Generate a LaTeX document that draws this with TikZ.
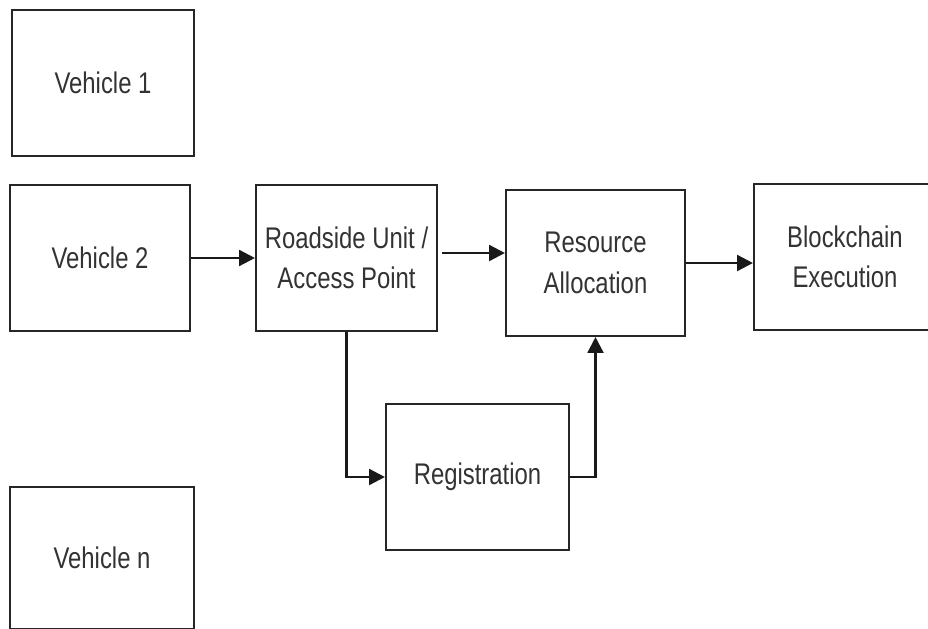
\documentclass[tikz,border=0pt]{standalone}
\usepackage{fontspec}
\setmainfont{Liberation Sans}[FakeStretch=0.8]
\usepackage{tikz}
\usetikzlibrary{arrows.meta}

\tikzset{
  blk/.style={draw=black!85, line width=1.2pt, minimum width=181*0.02cm, minimum height=146*0.02cm,
    align=center, font=\fontsize{17}{23}\selectfont, text=black!80, inner sep=0pt},
  arr/.style={line width=1.4pt, draw=black!90, -{Triangle[length=9pt,width=9pt]}}
}

\begin{document}
\begin{tikzpicture}[x=0.02cm,y=-0.02cm]
\clip (0,0) rectangle (928,628);
\fill[white] (0,0) rectangle (928,628);
% vehicles
\node[blk, minimum width=182*0.02cm] (veh1) at (103,83) {Vehicle 1};
\node[blk, minimum width=180*0.02cm] (veh2) at (100,258) {Vehicle 2};
\node[blk, minimum width=184*0.02cm, minimum height=142*0.02cm] (vehn) at (102,558) {Vehicle n};
% processing chain
\node[blk] (rsu) at (346.5,258) {Roadside Unit /\\Access Point};
\node[blk, minimum width=179*0.02cm] (alloc) at (595.5,263) {Resource\\Allocation};
\node[blk, minimum width=182*0.02cm] (chain) at (845,257) {Blockchain\\Execution};
\node[blk, minimum width=183*0.02cm] (reg) at (477.5,477) {Registration};
% connectors
\draw[arr] (veh2.east) -- (rsu.west);
\draw[arr] ([shift={(4,-5)}]rsu.east) -- ([shift={(0,-5)}]rsu.east -| alloc.west);
\draw[arr] (alloc.east) -- (alloc.east -| chain.west);
\draw[arr] (rsu.south) |- (reg.west);
\draw[arr] (reg.east) -| (alloc.south);
\end{tikzpicture}
\end{document}
